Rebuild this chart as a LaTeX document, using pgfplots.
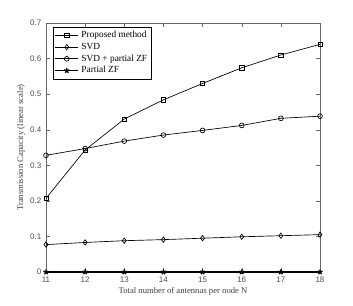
\documentclass[border=0pt]{standalone}
\usepackage{pgfplots}
\pgfplotsset{compat=1.18}
\usepackage{fontspec}
\setmainfont{Liberation Serif}
\newfontfamily\tickfont{Liberation Sans}
\begin{document}
\begin{tikzpicture}
\useasboundingbox (0pt,0pt) rectangle (264.75pt,229.5pt);
\begin{axis}[
  at={(34.5pt,25.5pt)}, anchor=south west,
  scale only axis, width=205.5pt, height=186.75pt,
  xmin=11, xmax=18, ymin=0, ymax=0.7,
  xtick={11,...,18},
  ytick={0,0.1,...,0.7},
  yticklabels={0,0.1,0.2,0.3,0.4,0.5,0.6,0.7},
  tick align=inside,
  axis line style={gray!80!black, line width=0.5pt},
  major tick style={gray!80!black},
  major tick length=3pt,
  ticklabel style={font=\tickfont\fontsize{6}{7}\selectfont, text=black!70},
  /pgf/number format/assume math mode=true,
  xlabel={Total number of antennas per node N},
  ylabel={Transmission Capacity (linear scale)},
  label style={font=\fontsize{6.5}{7.5}\selectfont, text=black!75},
  xlabel style={yshift=3pt},
  ylabel style={yshift=-3pt},
  legend style={at={(0.026,0.984)}, anchor=north west, font=\fontsize{7}{8}\selectfont,
    draw=black, line width=0.4pt, inner sep=1pt, row sep=-1.5pt},
  legend cell align=left,
  clip=false,
]
\addplot[black, line width=0.5pt, mark=square, mark size=1.6pt, mark options={fill=white, solid}]
 coordinates {(11,0.207) (12,0.343) (13,0.430) (14,0.484) (15,0.530) (16,0.574) (17,0.610) (18,0.640)};
\addlegendentry{Proposed method}
\addplot[black, line width=0.5pt, mark=diamond, mark size=2pt, mark options={fill=white, solid}]
 coordinates {(11,0.077) (12,0.083) (13,0.088) (14,0.091) (15,0.095) (16,0.099) (17,0.102) (18,0.105)};
\addlegendentry{SVD}
\addplot[black, line width=0.5pt, mark=o, mark size=1.8pt, mark options={fill=white, solid}]
 coordinates {(11,0.328) (12,0.347) (13,0.368) (14,0.385) (15,0.398) (16,0.412) (17,0.432) (18,0.438)};
\addlegendentry{SVD + partial ZF}
\addplot[black, line width=1pt, mark=star, mark size=2pt, mark options={fill=black, solid, line width=1pt}]
 coordinates {(11,0) (12,0) (13,0) (14,0) (15,0) (16,0) (17,0) (18,0)};
\addlegendentry{Partial ZF}
\end{axis}
\end{tikzpicture}
\end{document}
